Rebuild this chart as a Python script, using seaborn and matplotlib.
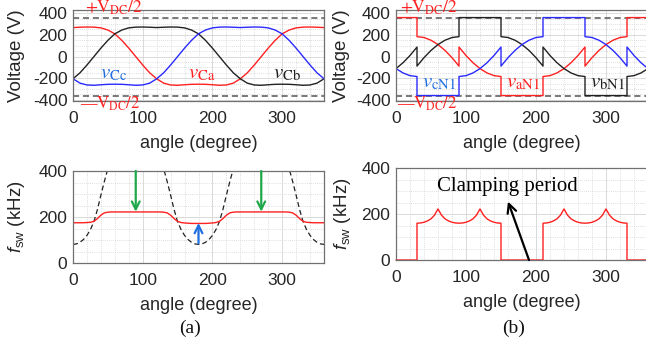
import numpy as np
import pandas as pd
import matplotlib
matplotlib.use("Agg")
import matplotlib.pyplot as plt
from matplotlib.ticker import MultipleLocator
import seaborn as sns

# ---------------- data ----------------
V_DC_HALF = 360

# capacitor voltages (V), sampled every 10 degrees
angle_c = list(range(0, 361, 10))
v_Ca = [268, 271, 273, 272, 265, 245, 210, 150, 78, 0, -78, -150, -205, -245, -262,
        -265, -260, -256, -255, -256, -260, -265, -262, -245, -205, -150, -78, 0, 78,
        150, 210, 245, 265, 272, 273, 271, 268]
v_Cb = [-205, -150, -78, 0, 78, 150, 210, 245, 265, 272, 273, 271, 268, 271, 273, 272,
        265, 245, 210, 150, 78, 0, -78, -150, -205, -245, -262, -265, -260, -256, -255,
        -256, -260, -265, -262, -245, -205]
v_Cc = [-205, -245, -262, -265, -260, -256, -255, -256, -260, -265, -262, -245, -205,
        -150, -78, 0, 78, 150, 210, 245, 265, 272, 273, 271, 268, 271, 273, 272, 265,
        245, 210, 150, 78, 0, -78, -150, -205]

# pole voltages (V) with 60-degree clamping intervals
angle_aN1 = [0, 30, 30, 40, 50, 60, 70, 80, 90, 90, 100, 110, 120, 130, 140, 150, 150,
             210, 210, 220, 230, 240, 250, 260, 270, 270, 280, 290, 300, 310, 320, 330,
             330, 360]
v_aN1 = [360, 360, 184, 176, 151, 111, 57, -10, -88, 88, 10, -57, -111, -151, -176,
         -184, -360, -360, -184, -176, -151, -111, -57, 10, 88, -88, -10, 57, 111, 151,
         176, 184, 360, 360]
angle_bN1 = [0, 10, 20, 30, 30, 40, 50, 60, 70, 80, 90, 90, 150, 150, 160, 170, 180,
             190, 200, 210, 210, 220, 230, 240, 250, 260, 270, 270, 330, 330, 340, 350,
             360]
v_bN1 = [-111, -57, 10, 88, -88, -10, 57, 111, 151, 176, 184, 360, 360, 184, 176, 151,
         111, 57, -10, -88, 88, 10, -57, -111, -151, -176, -184, -360, -360, -184, -176,
         -151, -111]
angle_cN1 = [0, 10, 20, 30, 30, 90, 90, 100, 110, 120, 130, 140, 150, 150, 160, 170,
             180, 190, 200, 210, 210, 270, 270, 280, 290, 300, 310, 320, 330, 330, 340,
             350, 360]
v_cN1 = [-111, -151, -176, -184, -360, -360, -184, -176, -151, -111, -57, 10, 88, -88,
         -10, 57, 111, 151, 176, 184, 360, 360, 184, 176, 151, 111, 57, -10, -88, 88,
         10, -57, -111]

# switching frequency (kHz), case (a), every 5 degrees
angle_f = list(range(0, 361, 5))
fsw_a = [175, 175, 175, 175, 176, 177, 181, 193, 208, 218, 221, 222,
         222, 222, 222, 222, 222, 222, 222, 222, 222, 222, 222, 222, 222, 222,
         221, 218, 208, 193, 181, 176, 174, 173, 172, 172, 172, 172, 172, 173, 174,
         176, 181, 193, 208, 218, 221, 222,
         222, 222, 222, 222, 222, 222, 222, 222, 222, 222, 222, 222, 222, 222,
         221, 218, 208, 193, 181, 177, 176, 175, 175, 175, 175]
# dashed reference curve, three branches
angle_ref1 = [0, 5, 10, 15, 20, 25, 30, 35, 40, 45, 50, 55]
fsw_ref1 = [81, 83, 90, 102, 120, 145, 180, 232, 295, 355, 410, 470]
angle_ref2 = list(range(125, 236, 5))
fsw_ref2 = [470, 410, 355, 295, 232, 180, 145, 120, 102, 90, 83, 81, 83, 90, 102, 120,
            145, 180, 232, 295, 355, 410, 470]
angle_ref3 = list(range(305, 361, 5))
fsw_ref3 = [470, 410, 355, 295, 232, 180, 145, 120, 102, 90, 83, 81]

# switching frequency (kHz), case (b)
angle_fb = [0, 30, 30, 35, 40, 45, 50, 55, 60, 65, 70, 75, 80, 85, 90, 95, 100, 105,
            110, 115, 120, 125, 130, 135, 140, 145, 150, 150,
            210, 210, 215, 220, 225, 230, 235, 240, 245, 250, 255, 260, 265, 270, 275,
            280, 285, 290, 295, 300, 305, 310, 315, 320, 325, 330, 330, 360]
fsw_b = [0, 0, 160, 161, 164, 170, 179, 195, 222, 195, 179, 170, 164, 161, 160, 161,
         164, 170, 179, 195, 222, 195, 179, 170, 164, 161, 160, 0,
         0, 160, 161, 164, 170, 179, 195, 222, 195, 179, 170, 164, 161, 160, 161,
         164, 170, 179, 195, 222, 195, 179, 170, 164, 161, 160, 0, 0]

# ---------------- style ----------------
sns.set_theme(style="white")
plt.rcParams["font.family"] = ["Liberation Sans", "DejaVu Sans"]
plt.rcParams["mathtext.fontset"] = "custom"
plt.rcParams["mathtext.rm"] = "Liberation Sans"
plt.rcParams["mathtext.it"] = "Liberation Sans:italic"
plt.rcParams["mathtext.bf"] = "Liberation Sans:bold"
plt.rcParams["axes.unicode_minus"] = False

RED = "#ff2020"
BLUE = "#2a2aff"
BLUE_TXT = "#1f6fe0"
BLACK = "#222222"
GREEN = "#1fa84a"
SERIF = ["Liberation Serif", "DejaVu Serif"]

fig = plt.figure(figsize=(6.46, 3.47), dpi=100)
W, H = 646.0, 347.0


def add_ax(x0, x1, y0, y1):
    return fig.add_axes([x0 / W, 1 - y1 / H, (x1 - x0) / W, (y1 - y0) / H])


ax_tl = add_ax(73, 324, 10, 101)
ax_tr = add_ax(396, 648, 10, 101)
ax_bl = add_ax(73, 324, 171, 263)
ax_br = add_ax(396, 648, 168, 260)


def style(ax, ylim, yticks, yminor, ylabel, ylab_x):
    ax.set_xlim(0, 360)
    ax.set_ylim(*ylim)
    ax.set_xticks([0, 100, 200, 300])
    ax.set_yticks(yticks)
    ax.xaxis.set_minor_locator(MultipleLocator(20))
    ax.yaxis.set_minor_locator(MultipleLocator(yminor))
    ax.grid(which="major", color="#d4d4d4", lw=0.6, ls="-")
    ax.grid(which="minor", color="#d4d4d4", lw=0.6, ls=(0, (1, 1.5)))
    ax.set_axisbelow(True)
    for s in ax.spines.values():
        s.set_visible(True)
        s.set_color("#707070")
        s.set_linewidth(0.9)
    ax.tick_params(which="both", direction="in", colors="#707070",
                   labelcolor="#262626", labelsize=12.5)
    ax.tick_params(which="major", length=3)
    ax.tick_params(which="minor", length=0)
    ax.tick_params(axis="x", pad=7.5)
    ax.tick_params(axis="y", pad=4)
    ax.set_xlabel("angle (degree)", fontsize=13, color="#262626")
    ax.xaxis.set_label_coords(0.5, -0.37)
    ax.set_ylabel(ylabel, fontsize=13.5, color="#262626")
    ax.yaxis.set_label_coords(ylab_x, 0.5)


def line(ax, x, y, color, lw=1.0, ls="-"):
    sns.lineplot(x=x, y=y, ax=ax, color=color, lw=lw, linestyle=ls,
                 estimator=None, sort=False)


# ---- top left: capacitor voltages ----
for val in (V_DC_HALF, -V_DC_HALF):
    ax_tl.axhline(val, color="#555555", lw=1.1, ls=(0, (4, 2.5)))
line(ax_tl, angle_c, v_Ca, RED)
line(ax_tl, angle_c, v_Cb, BLACK)
line(ax_tl, angle_c, v_Cc, BLUE)
style(ax_tl, (-410, 430), [-400, -200, 0, 200, 400], 50, "Voltage (V)", -0.19)

# ---- top right: pole voltages ----
for val in (V_DC_HALF, -V_DC_HALF):
    ax_tr.axhline(val, color="#555555", lw=1.1, ls=(0, (4, 2.5)))
line(ax_tr, angle_aN1, v_aN1, RED)
line(ax_tr, angle_bN1, v_bN1, BLACK)
line(ax_tr, angle_cN1, v_cN1, BLUE)
style(ax_tr, (-410, 430), [-400, -200, 0, 200, 400], 50, "Voltage (V)", -0.183)

# DC-link labels and phase labels
for ax, xp, xm in ((ax_tl, 17, 10), (ax_tr, 6, 1.5)):
    ax.text(xp, 405, r"$+\mathrm{V}_{\mathrm{DC}}/2$", color=RED, fontsize=12.5,
            math_fontfamily="stix", va="baseline", ha="left", clip_on=False)
    ax.text(xm, -482, "$\u2014" + r"\mathrm{V}_{\mathrm{DC}}/2$", color=RED,
            fontsize=12, math_fontfamily="stix", va="baseline", ha="left",
            clip_on=False)

ax_tl.text(39, -205, r"$v_{\mathrm{Cc}}$", color=BLUE_TXT, fontsize=15,
           math_fontfamily="stix", va="baseline")
ax_tl.text(165, -205, r"$v_{\mathrm{Ca}}$", color=RED, fontsize=15,
           math_fontfamily="stix", va="baseline")
ax_tl.text(287, -205, r"$v_{\mathrm{Cb}}$", color=BLACK, fontsize=15,
           math_fontfamily="stix", va="baseline")
ax_tr.text(37, -288, r"$v_{\mathrm{cN1}}$", color=BLUE_TXT, fontsize=15,
           math_fontfamily="stix", va="baseline")
ax_tr.text(157, -288, r"$v_{\mathrm{aN1}}$", color=RED, fontsize=15,
           math_fontfamily="stix", va="baseline")
ax_tr.text(277, -288, r"$v_{\mathrm{bN1}}$", color=BLACK, fontsize=15,
           math_fontfamily="stix", va="baseline")

# ---- bottom left: switching frequency (a) ----
ref = pd.DataFrame({
    "angle": angle_ref1 + angle_ref2 + angle_ref3,
    "f": fsw_ref1 + fsw_ref2 + fsw_ref3,
    "seg": [1] * len(angle_ref1) + [2] * len(angle_ref2) + [3] * len(angle_ref3),
})
sns.lineplot(data=ref, x="angle", y="f", units="seg", estimator=None, ax=ax_bl,
             color=BLACK, lw=0.9, linestyle=(0, (4, 2.5)))
line(ax_bl, angle_f, fsw_a, RED)
style(ax_bl, (0, 400), [0, 200, 400], 50, r"$f_{\mathrm{sw}}$ (kHz)", -0.185)

arrow_kw = dict(arrowstyle="->", lw=1.6, mutation_scale=14, shrinkA=0, shrinkB=0)
for xa in (90, 270):
    ax_bl.annotate("", xy=(xa, 223), xytext=(xa, 400),
                   arrowprops=dict(color=GREEN, **arrow_kw))
ax_bl.annotate("", xy=(180, 174), xytext=(180, 86),
               arrowprops=dict(color=BLUE_TXT, **arrow_kw))

# ---- bottom right: switching frequency (b) ----
line(ax_br, angle_fb, fsw_b, RED)
style(ax_br, (0, 400), [0, 200, 400], 50, r"$f_{\mathrm{sw}}$ (kHz)", -0.17)
ax_br.get_lines()[-1].set_clip_on(False)
ax_br.text(159, 320, "Clamping period", fontsize=15, family=SERIF, color="black",
           ha="center", va="center")
ax_br.annotate("", xy=(160, 254), xytext=(190, 0),
               arrowprops=dict(color="black", arrowstyle="->", lw=1.6,
                               mutation_scale=16, shrinkA=0, shrinkB=0))

fig.text(190 / W, 1 - 328 / H, "(a)", fontsize=14, family=SERIF, ha="center",
         va="center", color="#111111")
fig.text(514 / W, 1 - 328 / H, "(b)", fontsize=14, family=SERIF, ha="center",
         va="center", color="#111111")

fig.savefig("out.png", dpi=100)
